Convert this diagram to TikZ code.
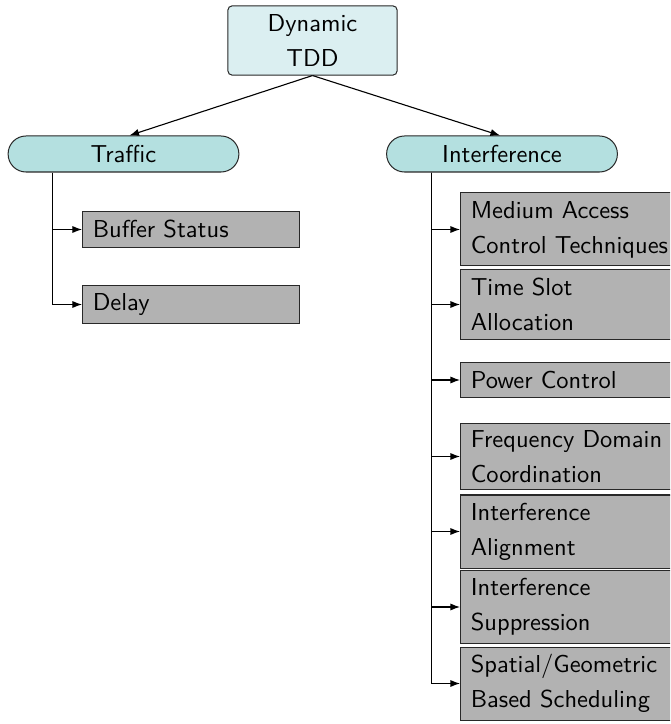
\documentclass[tikz,border=0pt]{standalone}
\usetikzlibrary{arrows.meta,calc}
\definecolor{topfill}{RGB}{219,239,241}
\definecolor{catfill}{RGB}{180,224,224}
\definecolor{leaffill}{RGB}{178,178,178}
\definecolor{edgecol}{RGB}{40,40,40}
\begin{document}
\begin{tikzpicture}[x=0.4082pt,y=-0.4082pt,
  font=\sffamily\fontsize{10}{14.3}\selectfont,
  rootbox/.style={draw=edgecol, fill=topfill, rounded corners=1.6pt, minimum width=69pt, minimum height=28.2pt, align=center, inner sep=0pt, line width=0.41pt},
  catbox/.style={draw=edgecol, fill=catfill, rounded corners=7.3pt, minimum width=94.2pt, minimum height=14.7pt, inner sep=0pt, line width=0.41pt},
  leafbox/.style={draw=edgecol, fill=leaffill, anchor=west, align=left, inner xsep=4.2pt, inner ysep=0pt, line width=0.41pt},
  leafL/.style={leafbox, text width=80.2pt},
  leafR/.style={leafbox, text width=89.6pt},
  conn/.style={draw=black, line width=0.45pt, -{Latex[length=3.9pt,width=2.9pt]}}
]
\useasboundingbox (0,0) rectangle (670,724);
\clip (0,0) rectangle (670,724);

\node[rootbox] (root) at (312.5,40.5) {Dynamic\\TDD};
\node[catbox] (tr) at (123.5,154) {Traffic};
\node[catbox] (in) at (502,154) {Interference};

\node[leafL, minimum height=14.3pt] (buf) at (82,229.5) {Buffer Status};
\node[leafL, minimum height=15.9pt] (del) at (82,304.5) {Delay};

\node[leafR, minimum height=29.8pt] (mac) at (460,229.5) {Medium Access\\Control Techniques};
\node[leafR, minimum height=28.2pt] (tsa) at (460,304.5) {Time Slot\\Allocation};
\node[leafR, minimum height=13.9pt] (pc) at (460,380) {Power Control};
\node[leafR, minimum height=27.3pt] (fdc) at (460,456.5) {Frequency Domain\\Coordination};
\node[leafR, minimum height=29.8pt] (ia) at (460,531.5) {Interference\\Alignment};
\node[leafR, minimum height=29.4pt] (isp) at (460,607) {Interference\\Suppression};
\node[leafR, minimum height=29.8pt] (sgb) at (460,683.5) {Spatial/Geometric\\Based Scheduling};

\draw[conn] (root.south) -- ($(tr.north)+(6,0)$);
\draw[conn] (root.south) -- ($(in.north)+(-2,0)$);

\coordinate (tk) at ($(tr.south west)+(44.5,0)$);
\draw[conn] (tk) |- (buf.west);
\draw[conn] (tk) |- (del.west);

\coordinate (ik) at ($(in.south west)+(45,0)$);
\foreach \n in {mac,tsa,pc,fdc,ia,isp,sgb}{
  \draw[conn] (ik) |- (\n.west);
}
\end{tikzpicture}
\end{document}
